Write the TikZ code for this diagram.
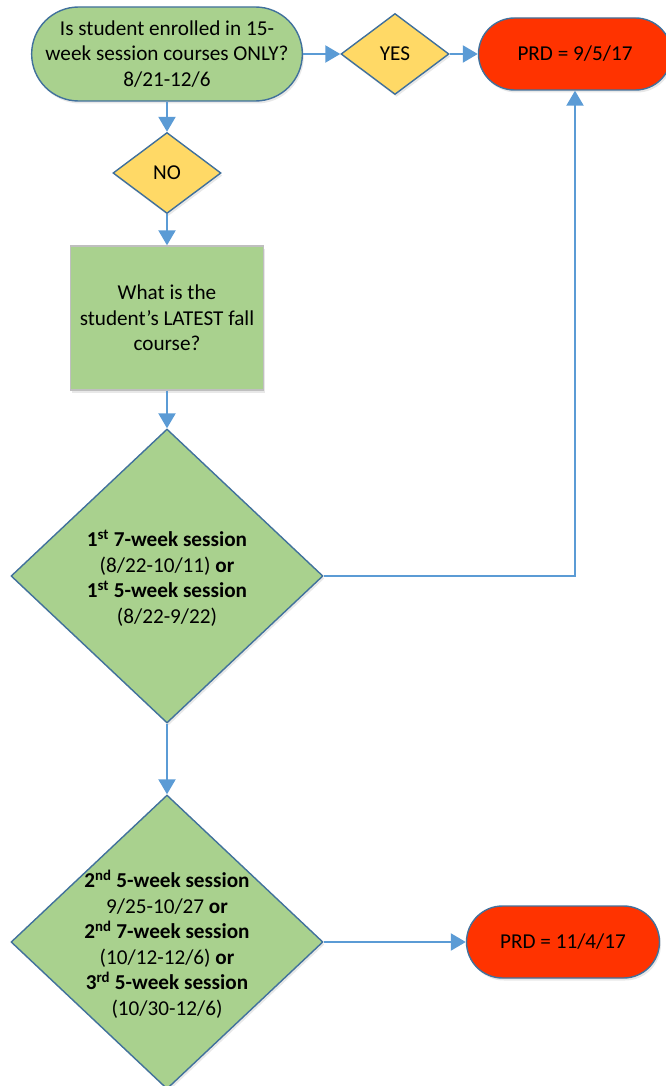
\documentclass[tikz,border=0pt]{standalone}
\usepackage{fontspec}
\setmainfont{Carlito}
\usetikzlibrary{shapes.geometric,shapes.misc,arrows.meta,shadows}
\definecolor{gfill}{HTML}{A9D18E}
\definecolor{bord}{HTML}{41719C}
\definecolor{yfill}{HTML}{FFD966}
\definecolor{rfill}{HTML}{FF3300}
\definecolor{arrc}{HTML}{5B9BD5}
\definecolor{rbord}{HTML}{BFBFBF}
\begin{document}
\begin{tikzpicture}[x=1pt,y=-1pt,
  every node/.style={font=\fontsize{21.2}{25.5}\selectfont, text=black, align=center},
  shad/.style={drop shadow={opacity=0.18, shadow xshift=1.5pt, shadow yshift=-2.5pt}},
  tbox/.style={rounded rectangle, draw=bord, fill=gfill, line width=1.4pt, minimum width=264pt, minimum height=94pt, inner sep=0pt, shad},
  ydia/.style={diamond, draw=bord, fill=yfill, line width=1.4pt, minimum width=108pt, minimum height=81pt, inner sep=0pt, shad},
  gdia/.style={diamond, draw=bord, fill=gfill, line width=1.4pt, minimum width=312pt, minimum height=294pt, inner sep=0pt, shad},
  rbox/.style={rounded rectangle, draw=bord, fill=rfill, line width=1.4pt, minimum width=193pt, minimum height=72pt, inner sep=0pt, shad},
  sqbox/.style={rectangle, draw=rbord, fill=gfill, line width=1.4pt, minimum width=193pt, minimum height=144pt, inner sep=0pt, shad},
  arr/.style={draw=arrc, line width=2.2pt, -{Triangle[length=15pt,width=17pt]}}
]
\useasboundingbox (0,0) rectangle (665,1086);
\node[tbox] (q) at (167,54) {Is student enrolled in 15-\\week session courses ONLY?\\8/21-12/6};
\node[ydia] (yes) at (395,54) {YES};
\node[rbox] (prd1) at (575,54) {PRD = 9/5/17};
\node[ydia] (no) at (167,173) {NO};
\node[sqbox] (what) at (167,318) {What is the\\student’s LATEST fall\\course?};
\node[gdia] (d1) at (167,576) {};
\node (d1t) at (167,578) {\textbf{1\textsuperscript{st} 7-week session}\\(8/22-10/11) \textbf{or}\\\textbf{1\textsuperscript{st} 5-week session}\\(8/22-9/22)};
\node[gdia] (d2) at (167,942) {};
\node (d2t) at (167,944) {\textbf{2\textsuperscript{nd} 5-week session}\\9/25-10/27 \textbf{or}\\\textbf{2\textsuperscript{nd} 7-week session}\\(10/12-12/6) \textbf{or}\\\textbf{3\textsuperscript{rd} 5-week session}\\(10/30-12/6)};
\node[rbox] (prd2) at (563,942) {PRD = 11/4/17};
\draw[arr] (q.east) -- (yes.west);
\draw[arr] (yes.east) -- (prd1.west);
\draw[arr] (q.south) -- (no.north);
\draw[arr] (no.south) -- (what.north);
\draw[arr] (what.south) -- (d1.north);
\draw[arr] (d1.east) -| (prd1.south);
\draw[arr] (d1.south) -- (d2.north);
\draw[arr] (d2.east) -- (prd2.west);
\end{tikzpicture}
\end{document}
